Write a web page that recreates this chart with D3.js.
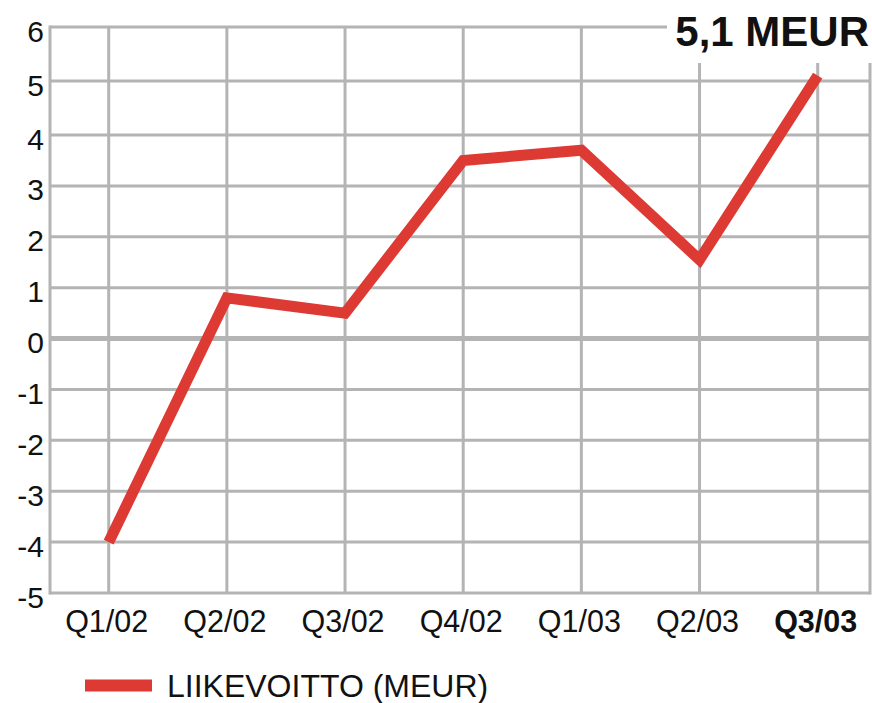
<!DOCTYPE html>
<html>
<head>
<meta charset="utf-8">
<script src="https://cdn.jsdelivr.net/npm/d3@7"></script>
<style>
  html, body { margin: 0; padding: 0; background: #fff; }
  svg { display: block; font-family: "Liberation Sans", Arial, sans-serif; }
</style>
</head>
<body>
<svg id="chart" width="872" height="703"></svg>
<script>
const categories = ["Q1/02", "Q2/02", "Q3/02", "Q4/02", "Q1/03", "Q2/03", "Q3/03"];
const values = [-4.0, 0.8, 0.5, 3.5, 3.7, 1.55, 5.1];
const yTicks = [6, 5, 4, 3, 2, 1, 0, -1, -2, -3, -4, -5];
const seriesName = "LIIKEVOITTO (MEUR)";
const calloutText = "5,1 MEUR";

(function () {
const svg = d3.select("#chart");
const pLeft = 50, pRight = 870, pTop = 27, pBottom = 593;
const gridColor = "#b4b4b4";
const red = "#de3a34";

const x = d3.scalePoint().domain(categories).range([108.7, 817.7]);
const y = d3.scaleLinear().domain([-5, 4, 6]).range([593, 135, 27]);

// horizontal gridlines
svg.append("g").selectAll("line").data(yTicks).join("line")
  .attr("x1", pLeft).attr("x2", pRight)
  .attr("y1", d => y(d)).attr("y2", d => y(d))
  .attr("stroke", gridColor)
  .attr("stroke-width", d => d === 0 ? 5 : 3);

// vertical gridlines
svg.append("g").selectAll("line").data(categories).join("line")
  .attr("x1", d => x(d)).attr("x2", d => x(d))
  .attr("y1", pTop).attr("y2", pBottom)
  .attr("stroke", gridColor).attr("stroke-width", 3);

// frame
svg.append("line").attr("x1", pLeft).attr("x2", pLeft).attr("y1", pTop - 1.5).attr("y2", pBottom + 1.5)
  .attr("stroke", gridColor).attr("stroke-width", 3);
svg.append("line").attr("x1", pRight).attr("x2", pRight).attr("y1", pTop - 1.5).attr("y2", pBottom + 1.5)
  .attr("stroke", gridColor).attr("stroke-width", 3);

// line
const line = d3.line().x((d, i) => x(categories[i])).y(d => y(d));
svg.append("path").datum(values)
  .attr("d", line)
  .attr("fill", "none")
  .attr("stroke", red)
  .attr("stroke-width", 11)
  .attr("stroke-linejoin", "miter")
  .attr("stroke-linecap", "butt");

// callout box and label
svg.append("rect").attr("x", 667).attr("y", 0).attr("width", 205).attr("height", 63).attr("fill", "#fff");
svg.append("text").attr("x", 869).attr("y", 46)
  .attr("text-anchor", "end")
  .attr("font-size", 42).attr("font-weight", "bold").attr("fill", "#111")
  .text(calloutText);

// y tick labels
svg.append("g").selectAll("text").data(yTicks).join("text")
  .attr("x", 44).attr("y", d => y(d) + 14.5)
  .attr("text-anchor", "end")
  .attr("font-size", 30).attr("fill", "#111")
  .text(d => d);

// x tick labels
svg.append("g").selectAll("text").data(categories).join("text")
  .attr("x", d => x(d) - 2).attr("y", 632)
  .attr("text-anchor", "middle")
  .attr("font-size", 30.5).attr("fill", "#111")
  .attr("font-weight", (d, i) => i === categories.length - 1 ? "bold" : "normal")
  .text(d => d);

// legend
svg.append("line").attr("x1", 85).attr("x2", 152).attr("y1", 685.5).attr("y2", 685.5)
  .attr("stroke", red).attr("stroke-width", 12);
svg.append("text").attr("x", 167).attr("y", 697)
  .attr("font-size", 32).attr("fill", "#111")
  .text(seriesName);
})();
</script>
</body>
</html>
